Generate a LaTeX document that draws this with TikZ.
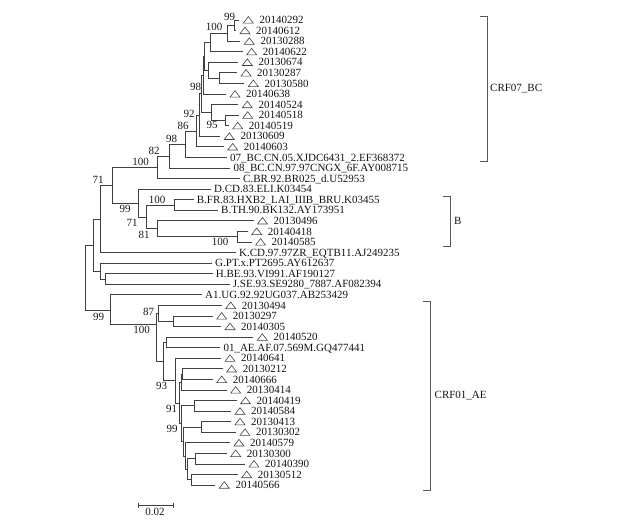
\documentclass[tikz,border=0pt]{standalone}
\usepackage{fontspec}
\setmainfont{Liberation Serif}
\begin{document}
\begin{tikzpicture}[x=1pt,y=-1pt,
  br/.style={draw=black!75,line width=0.8pt},
  tri/.style={draw=black!75,line width=0.6pt,line join=miter},
  lbl/.style={anchor=west,inner sep=0pt,text height=7.3pt,text depth=0pt,font=\fontsize{11}{13}\selectfont,text=black!92},
  boot/.style={inner sep=0pt,font=\fontsize{11}{13}\selectfont,text=black!90},
  grp/.style={anchor=west,inner sep=0pt,font=\fontsize{11}{13}\selectfont,text=black!92},
  brk/.style={draw=black!65,line width=0.8pt}]
\useasboundingbox (0,0) rectangle (628,527);

% sample leaves (triangle markers)
\foreach \n/\x/\t in {1/239.3/20140292,2/236/20140612,3/240.3/20130288,4/242.7/20140622,
  5/238.3/20130674,6/237/20130287,7/244.3/20130580,8/226/20140638,9/238.3/20140524,
  10/238.7/20140518,11/228.7/20140519,12/220.3/20130609,13/223.7/20140603,
  20/253.5/20130496,21/247.7/20140418,22/251.5/20140585,
  28/221.7/20130494,29/212.7/20130297,30/221/20140305,31/253.3/20140520,
  33/221/20140641,34/222.7/20130212,35/212.7/20140666,36/226.7/20130414,
  37/236.5/20140419,38/231/20140584,39/231/20130413,40/236/20130302,
  41/230/20140579,42/226.7/20130300,43/245/20140390,44/237.7/20130512,45/215.3/20140566}{
  \pgfmathsetmacro\yy{20+(\n-1)*10.57}
  \coordinate (L\n) at (\x,\yy);
  \draw[tri] ([shift={(4,3.2)}]L\n) -- ++(10,0) -- ++(-5,-6.6) -- cycle;
  \node[lbl] (T\n) at ([xshift=20]L\n) {\t};
}
% reference leaves
\foreach \n/\x/\t in {14/227/07\_BC.CN.05.XJDC6431\_2.EF368372,
  15/230.3/08\_BC.CN.97.97CNGX\_6F.AY008715,
  16/240/C.BR.92.BR025\_d.U52953,
  17/211/D.CD.83.ELI.K03454,
  18/193.7/B.FR.83.HXB2\_LAI\_IIIB\_BRU.K03455,
  19/218/B.TH.90.BK132.AY173951,
  23/236/K.CD.97.97ZR\_EQTB11.AJ249235,
  24/212/G.PT.x.PT2695.AY612637,
  25/212.7/H.BE.93.VI991.AF190127,
  26/229.7/J.SE.93.SE9280\_7887.AF082394,
  27/202/A1.UG.92.92UG037.AB253429,
  32/220.3/01\_AE.AF.07.569M.GQ477441}{
  \pgfmathsetmacro\yy{20+(\n-1)*10.57}
  \coordinate (L\n) at (\x,\yy);
  \node[lbl] (T\n) at ([xshift=3]L\n) {\t};
}

% internal nodes
\coordinate (n99) at (234,25.3);
\coordinate (n100a) at (227.5,33.2);
\coordinate (nA) at (210,42.5);
\coordinate (n67) at (219.5,78.1);
\coordinate (nB) at (208.5,70.2);
\coordinate (nC95) at (225,120.4);
\coordinate (nC) at (211.7,112.5);
\coordinate (n98) at (204.5,56.3);
\coordinate (nX) at (203,75.2);
\coordinate (nY) at (201.5,93.8);
\coordinate (n92) at (199.5,115);
\coordinate (n86) at (196.7,131);
\coordinate (n98b) at (185,144.2);
\coordinate (n82) at (169.3,156.1);
\coordinate (n100b) at (157.7,167.3);
\coordinate (n100c) at (174.3,205);
\coordinate (n100d) at (237.3,236.7);
\coordinate (n81) at (157.7,228.8);
\coordinate (n71b) at (146,216.9);
\coordinate (nDB) at (138.3,203);
\coordinate (n71a) at (112.7,185.2);
\coordinate (nK) at (100,218.9);
\coordinate (nHJ) at (105.7,279);
\coordinate (nGHJ) at (100,271);
\coordinate (nU) at (93.3,245);
\coordinate (nAE) at (110.7,310);
\coordinate (root) at (85.7,277.5);
\coordinate (n297) at (173,321.2);
\coordinate (n87) at (158,313.3);
\coordinate (n520) at (166,342.4);
\coordinate (nS1) at (182,374.1);
\coordinate (nS) at (181,382);
\coordinate (n419) at (194,405.8);
\coordinate (n413) at (201.7,427);
\coordinate (n300) at (195,458.7);
\coordinate (n512) at (191,479.8);
\coordinate (nP) at (187,469.2);
\coordinate (nQ) at (185,456);
\coordinate (nR) at (183.3,441.5);
\coordinate (n99c) at (181.7,423.7);
\coordinate (n91) at (179.5,402.9);
\coordinate (n93) at (175,380.6);
\coordinate (nT) at (163,361.5);
\coordinate (n100e) at (156.5,324);

% branches
\foreach \p/\c in {n99/L1,n99/L2,n100a/n99,n100a/L3,nA/n100a,nA/L4,n67/L6,n67/L7,
  nB/L5,nB/n67,nC95/L10,nC95/L11,nC/L9,nC/nC95,n98/nA,n98/nB,nX/n98,nX/L8,
  nY/nX,nY/nC,n92/nY,n92/L12,n86/n92,n86/L13,n98b/n86,n98b/L14,n82/n98b,n82/L15,
  n100b/n82,n100b/L16,n100c/L18,n100c/L19,n100d/L21,n100d/L22,n81/L20,n81/n100d,
  n71b/n100c,n71b/n81,nDB/L17,nDB/n71b,n71a/n100b,n71a/nDB,nK/n71a,nK/L23,
  nHJ/L25,nHJ/L26,nGHJ/L24,nGHJ/nHJ,nU/nK,nU/nGHJ,nAE/L27,nAE/n100e,root/nU,root/nAE,
  n297/L29,n297/L30,n87/L28,n87/n297,n520/L31,n520/L32,nS1/L34,nS1/L35,nS/nS1,nS/L36,
  n419/L37,n419/L38,n413/L39,n413/L40,n300/L42,n300/L43,n512/L44,n512/L45,
  nP/n300,nP/n512,nQ/L41,nQ/nP,nR/n413,nR/nQ,n99c/n419,n99c/nR,n91/nS,n91/n99c,
  n93/L33,n93/n91,nT/n520,nT/n93,n100e/n87,n100e/nT}{
  \draw[br] (\p) |- (\c);
}

% bootstrap values
\foreach \i/\x/\y/\v in {1/229.5/16.5/99,2/214/27/100,3/195.5/87/98,4/189/114/92,
  5/183/126/86,6/212/124.5/95,7/171.5/138.5/98,8/154/150.5/82,9/140.5/162/100,
  10/98/179.5/71,11/157/200/100,12/125/208.5/99,13/132/222.5/71,14/144/234.5/81,
  15/220/241.5/100,16/98.5/317/99,17/148.5/311.5/87,18/141.5/330/100,19/161.5/386/93,
  20/171.5/408.5/91,21/172/429/99}{
  \node[boot] (b\i) at (\x,\y) {\v};
}

% group brackets
\coordinate (g1a) at (480,16);
\coordinate (g1b) at (480,161.7);
\draw[brk] (g1a) -- ++(7.3,0) |- (g1b);
\node[grp] (G1) at (490,88.5) {CRF07\_BC};
\coordinate (g2a) at (442.7,196);
\coordinate (g2b) at (442.7,246.7);
\draw[brk] (g2a) -- ++(7.3,0) |- (g2b);
\node[grp] (G2) at (454,221) {B};
\coordinate (g3a) at (422.7,301.7);
\coordinate (g3b) at (422.7,490);
\draw[brk] (g3a) -- ++(8,0) |- (g3b);
\node[grp] (G3) at (434.5,395.5) {CRF01\_AE};

% scale bar
\coordinate (s1) at (138.3,505);
\coordinate (s2) at (173.3,505);
\draw[br] (s1) -- (s2);
\draw[br] ([yshift=-2.5pt]s1) -- ([yshift=2.5pt]s1);
\draw[br] ([yshift=-2.5pt]s2) -- ([yshift=2.5pt]s2);
\node[boot] (sc) at (155,512) {0.02};
\end{tikzpicture}
\end{document}
